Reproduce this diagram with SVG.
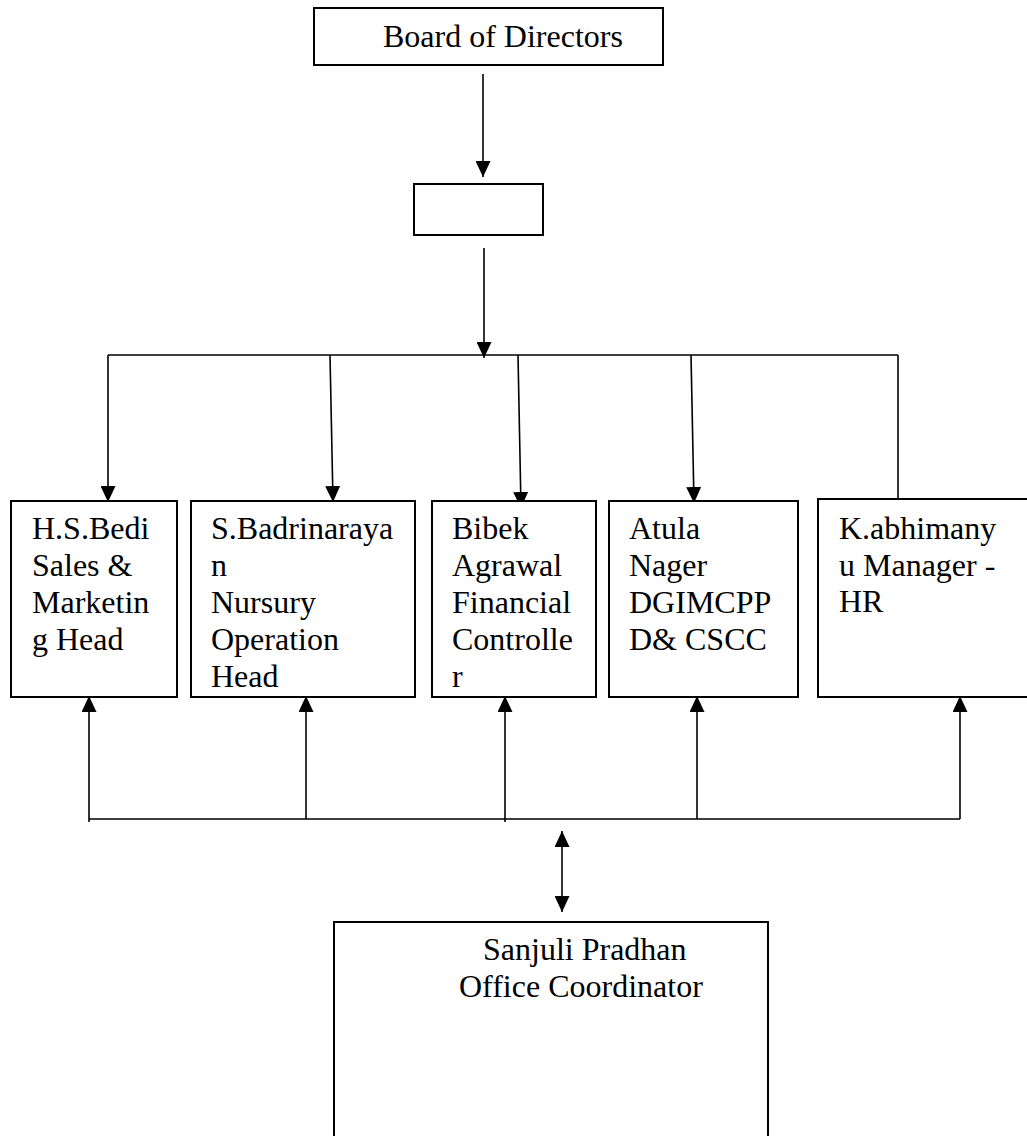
<svg xmlns="http://www.w3.org/2000/svg" width="1027" height="1136" viewBox="0 0 1027 1136">
<style>
.box{fill:#fff;stroke:#000;stroke-width:2}
.ln{fill:none;stroke:#000;stroke-width:1.6}
.t{font-family:"Liberation Serif","Times New Roman",serif;font-size:32px;fill:#000}
</style>
<defs>
<marker id="ah" viewBox="0 0 16 15" refX="16" refY="7.5" markerWidth="16" markerHeight="15" markerUnits="userSpaceOnUse" orient="auto-start-reverse">
<path d="M0,0 L16,7.5 L0,15 z" fill="#000"/>
</marker>
</defs>
<rect width="1027" height="1136" fill="#fff"/>
<g id="connectors">
<line class="ln" x1="483" y1="74" x2="483" y2="177" marker-end="url(#ah)"/>
<line class="ln" x1="484" y1="248" x2="484" y2="358" marker-end="url(#ah)"/>
<line class="ln" x1="108" y1="355" x2="898" y2="355"/>
<line class="ln" x1="108" y1="355" x2="108" y2="502" marker-end="url(#ah)"/>
<line class="ln" x1="330" y1="355" x2="333" y2="502" marker-end="url(#ah)"/>
<line class="ln" x1="518" y1="355" x2="521" y2="508" marker-end="url(#ah)"/>
<line class="ln" x1="691" y1="355" x2="694" y2="503" marker-end="url(#ah)"/>
<line class="ln" x1="898" y1="355" x2="898" y2="499"/>
<line class="ln" x1="89" y1="819" x2="960" y2="819"/>
<line class="ln" x1="89" y1="822" x2="89" y2="696" marker-end="url(#ah)"/>
<line class="ln" x1="306" y1="819" x2="306" y2="696" marker-end="url(#ah)"/>
<line class="ln" x1="505" y1="822" x2="505" y2="696" marker-end="url(#ah)"/>
<line class="ln" x1="697" y1="819" x2="697" y2="696" marker-end="url(#ah)"/>
<line class="ln" x1="960" y1="819" x2="960" y2="696" marker-end="url(#ah)"/>
<line class="ln" x1="562" y1="831" x2="562" y2="912" marker-start="url(#ah)" marker-end="url(#ah)"/>
</g>
<g id="board">
<rect class="box" x="314" y="8" width="349" height="57"/>
<text class="t" x="383" y="47">Board of Directors</text>
</g>
<g id="ceo">
<rect class="box" x="414" y="184" width="129" height="51"/>
</g>
<g id="hsbedi">
<rect class="box" x="11" y="501" width="166" height="196"/>
<text class="t" x="32" y="539">H.S.Bedi</text>
<text class="t" x="32" y="576">Sales &amp;</text>
<text class="t" x="32" y="613">Marketin</text>
<text class="t" x="32" y="650">g Head</text>
</g>
<g id="badrinarayan">
<rect class="box" x="191" y="501" width="224" height="196"/>
<text class="t" x="211" y="539">S.Badrinaraya</text>
<text class="t" x="211" y="576">n</text>
<text class="t" x="211" y="613">Nursury</text>
<text class="t" x="211" y="650">Operation</text>
<text class="t" x="211" y="687">Head</text>
</g>
<g id="bibek">
<rect class="box" x="432" y="501" width="164" height="196"/>
<text class="t" x="452" y="539">Bibek</text>
<text class="t" x="452" y="576">Agrawal</text>
<text class="t" x="452" y="613">Financial</text>
<text class="t" x="452" y="650">Controlle</text>
<text class="t" x="452" y="687">r</text>
</g>
<g id="atula">
<rect class="box" x="609" y="501" width="189" height="196"/>
<text class="t" x="629" y="539">Atula</text>
<text class="t" x="629" y="576">Nager</text>
<text class="t" x="629" y="613">DGIMCPP</text>
<text class="t" x="629" y="650">D&amp; CSCC</text>
</g>
<g id="abhimanyu">
<rect class="box" x="818" y="499" width="215" height="198"/>
<text class="t" x="839" y="539">K.abhimany</text>
<text class="t" x="839" y="576">u Manager -</text>
<text class="t" x="839" y="612">HR</text>
</g>
<g id="sanjuli">
<rect class="box" x="334" y="922" width="434" height="230"/>
<text class="t" x="483" y="960">Sanjuli Pradhan</text>
<text class="t" x="459" y="997">Office Coordinator</text>
</g>
</svg>
